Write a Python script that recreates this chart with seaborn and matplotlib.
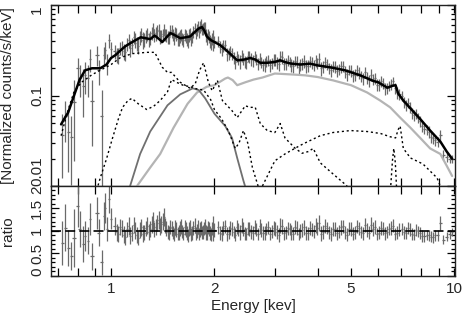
import numpy as np
import matplotlib
matplotlib.use("Agg")
import matplotlib.pyplot as plt
from matplotlib.ticker import LogLocator, MultipleLocator, NullFormatter, NullLocator
import seaborn as sns

# --- measured spectrum: energy (keV), normalized counts/s/keV, data/model ratio ---
data_e = [0.72, 0.735, 0.75, 0.765, 0.78, 0.80, 0.81, 0.83, 0.84, 0.857,
          0.87, 0.88, 0.91, 0.92, 0.94, 0.955, 0.96, 0.97, 0.987, 1.0,
          1.025, 1.05, 1.075, 1.10, 1.125, 1.15, 1.175, 1.20, 1.225, 1.25,
          1.275, 1.30, 1.325, 1.35, 1.375, 1.40, 1.425, 1.45, 1.475, 1.50,
          1.525, 1.55, 1.575, 1.60, 1.625, 1.65, 1.675, 1.70, 1.725, 1.75,
          1.775, 1.80, 1.825, 1.85, 1.875, 1.90, 1.925, 1.95, 1.975, 2.00,
          2.05, 2.10, 2.15, 2.20, 2.25, 2.30, 2.35, 2.40, 2.45, 2.50,
          2.56, 2.62, 2.68, 2.74, 2.80, 2.87, 2.94, 3.01, 3.08, 3.15,
          3.23, 3.31, 3.39, 3.47, 3.56, 3.65, 3.74, 3.84, 3.94, 4.04,
          4.15, 4.26, 4.37, 4.49, 4.61, 4.73, 4.86, 4.99, 5.13, 5.27,
          5.41, 5.56, 5.71, 5.87, 6.03, 6.20, 6.37, 6.55, 6.73, 6.92,
          7.11, 7.31, 7.52, 7.73, 7.95, 8.18, 8.42, 8.67, 8.93, 9.10,
          9.28, 9.50, 9.70, 9.85]
data_flux = [0.037, 0.059, 0.040, 0.035, 0.084, 0.20, 0.156, 0.128, 0.17, 0.156,
             0.254, 0.088, 0.28, 0.19, 0.06, 0.28, 0.32, 0.23, 0.41, 0.33,
             0.308, 0.279, 0.336, 0.301, 0.407, 0.366, 0.413, 0.357, 0.475, 0.418,
             0.482, 0.441, 0.543, 0.486, 0.531, 0.46, 0.533, 0.462, 0.447, 0.519,
             0.437, 0.473, 0.427, 0.473, 0.409, 0.453, 0.40, 0.486, 0.451, 0.56,
             0.53, 0.512, 0.605, 0.549, 0.561, 0.428, 0.447, 0.377, 0.464, 0.398,
             0.40, 0.329, 0.358, 0.291, 0.294, 0.235, 0.252, 0.274, 0.238, 0.27,
             0.255, 0.273, 0.223, 0.235, 0.221, 0.248, 0.23, 0.248, 0.221, 0.266,
             0.226, 0.236, 0.211, 0.235, 0.22, 0.24, 0.213, 0.231, 0.244, 0.253,
             0.207, 0.223, 0.191, 0.21, 0.194, 0.211, 0.172, 0.188, 0.17, 0.179,
             0.155, 0.159, 0.17, 0.156, 0.132, 0.137, 0.12, 0.135, 0.122, 0.103,
             0.085, 0.083, 0.064, 0.063, 0.052, 0.043, 0.04, 0.034, 0.031, 0.037,
             0.022, 0.021, 0.020, 0.020]
data_ratio = [0.73, 1.07, 0.62, 0.44, 0.84, 1.56, 1.04, 0.71, 0.89, 0.78,
              1.27, 0.44, 1.40, 0.96, 0.30, 1.33, 1.51, 1.04, 1.71, 1.27,
              1.12, 0.93, 1.05, 0.86, 1.10, 0.95, 1.02, 0.84, 1.08, 0.96,
              1.12, 1.05, 1.22, 1.08, 1.25, 1.15, 1.30, 1.05, 0.95, 1.06,
              0.92, 1.04, 0.97, 1.10, 0.94, 1.03, 0.90, 1.08, 0.96, 1.12,
              1.00, 0.93, 1.07, 0.98, 1.10, 0.95, 1.04, 0.92, 1.16, 1.02,
              1.08, 0.94, 1.10, 0.97, 1.05, 0.92, 1.03, 1.12, 0.95, 1.06,
              0.98, 1.09, 0.93, 1.02, 0.96, 1.08, 0.99, 1.05, 0.91, 1.10,
              0.97, 1.04, 0.94, 1.06, 1.00, 1.08, 0.95, 1.03, 1.12, 1.18,
              0.98, 1.07, 0.93, 1.05, 0.99, 1.10, 0.92, 1.04, 0.97, 1.06,
              0.95, 1.02, 1.14, 1.09, 0.96, 1.05, 0.98, 1.07, 0.94, 1.03,
              0.97, 1.06, 0.93, 1.02, 0.95, 0.88, 0.90, 0.86, 0.90, 1.18,
              0.80, 0.87, 0.93, 0.98]
ratio_err = [0.49, 0.52, 0.40, 0.31, 0.65, 0.48, 0.40, 0.39, 0.34, 0.30,
             0.35, 0.30, 0.35, 0.30, 0.28, 0.31, 0.33, 0.27, 0.30, 0.23,
             0.20, 0.18, 0.19, 0.17, 0.20, 0.18, 0.19, 0.16, 0.19, 0.17,
             0.19, 0.18, 0.20, 0.18, 0.20, 0.19, 0.20, 0.17, 0.16, 0.17,
             0.15, 0.17, 0.16, 0.17, 0.15, 0.16, 0.15, 0.17, 0.15, 0.16,
             0.15, 0.14, 0.16, 0.15, 0.16, 0.15, 0.16, 0.15, 0.17, 0.16,
             0.15, 0.16, 0.15, 0.14, 0.16, 0.15, 0.15, 0.17, 0.14, 0.15,
             0.16, 0.15, 0.14, 0.15, 0.16, 0.15, 0.14, 0.16, 0.15, 0.17,
             0.15, 0.14, 0.15, 0.16, 0.15, 0.17, 0.14, 0.15, 0.16, 0.18,
             0.15, 0.14, 0.15, 0.16, 0.14, 0.15, 0.14, 0.15, 0.14, 0.15,
             0.14, 0.15, 0.16, 0.15, 0.14, 0.15, 0.14, 0.15, 0.13, 0.14,
             0.14, 0.13, 0.14, 0.13, 0.13, 0.12, 0.13, 0.12, 0.12, 0.15,
             0.10, 0.10, 0.10, 0.09]

# second (interleaved) half of the channels, 1-9 keV
data_e2 = [1.0375, 1.0625, 1.0875, 1.1125, 1.1375, 1.1625, 1.1875, 1.2125, 1.2375, 1.2625,
           1.2875, 1.3125, 1.3375, 1.3625, 1.3875, 1.4125, 1.4375, 1.4625, 1.4875, 1.5125,
           1.5375, 1.5625, 1.5875, 1.6125, 1.6375, 1.6625, 1.6875, 1.7125, 1.7375, 1.7625,
           1.7875, 1.8125, 1.8375, 1.8625, 1.8875, 1.9125, 1.9375, 1.9625, 1.9875,
           2.075, 2.125, 2.175, 2.225, 2.275, 2.325, 2.375, 2.425, 2.475, 2.53,
           2.59, 2.65, 2.71, 2.77, 2.835, 2.905, 2.975, 3.045, 3.115, 3.19,
           3.27, 3.35, 3.43, 3.515, 3.605, 3.695, 3.79, 3.89, 3.99, 4.095,
           4.205, 4.315, 4.43, 4.55, 4.67, 4.795, 4.925, 5.06, 5.2, 5.34,
           5.485, 5.635, 5.79, 5.95, 6.115, 6.285, 6.46, 6.64, 6.825, 7.015,
           7.21, 7.415, 7.625, 7.84, 8.065, 8.3, 8.545, 8.8]
data_flux2 = [0.281, 0.338, 0.308, 0.374, 0.338, 0.446, 0.378, 0.444, 0.414, 0.456,
              0.417, 0.495, 0.469, 0.519, 0.452, 0.478, 0.476, 0.446, 0.529, 0.47,
              0.502, 0.423, 0.452, 0.428, 0.473, 0.42, 0.465, 0.423, 0.514, 0.489,
              0.589, 0.577, 0.542, 0.567, 0.466, 0.475, 0.403, 0.425, 0.371,
              0.346, 0.357, 0.29, 0.31, 0.262, 0.27, 0.238, 0.257, 0.234, 0.271,
              0.245, 0.252, 0.256, 0.219, 0.239, 0.217, 0.25, 0.234, 0.274, 0.225,
              0.244, 0.218, 0.243, 0.206, 0.225, 0.214, 0.241, 0.219, 0.229, 0.2,
              0.232, 0.2, 0.21, 0.188, 0.21, 0.184, 0.193, 0.167, 0.189, 0.163,
              0.181, 0.147, 0.152, 0.131, 0.143, 0.12, 0.129, 0.144, 0.108, 0.099,
              0.079, 0.075, 0.061, 0.057, 0.046, 0.042, 0.035, 0.032]
data_ratio2 = [0.97, 1.09, 0.92, 1.04, 0.89, 1.13, 0.91, 1.02, 0.94, 1.06,
               0.98, 1.15, 1.03, 1.18, 1.09, 1.21, 1.12, 0.98, 1.09, 0.97,
               1.08, 0.94, 1.05, 0.99, 1.08, 0.95, 1.04, 0.92, 1.06, 0.95,
               1.09, 1.03, 0.96, 1.05, 0.97, 1.08, 0.96, 1.05, 0.94,
               0.96, 1.06, 0.93, 1.07, 0.98, 1.09, 0.97, 1.04, 0.93, 1.05,
               0.96, 1.03, 1.10, 0.95, 1.04, 0.94, 1.07, 0.98, 1.12, 0.95,
               1.06, 0.97, 1.09, 0.93, 1.02, 0.96, 1.07, 0.99, 1.06, 0.94,
               1.11, 0.97, 1.04, 0.95, 1.08, 0.97, 1.05, 0.94, 1.10, 0.98,
               1.13, 0.96, 1.04, 0.93, 1.07, 0.95, 1.04, 1.12, 0.96, 1.05,
               0.95, 1.03, 0.92, 0.99, 0.89, 0.91, 0.87, 0.90]
ratio_err2 = [0.19, 0.18, 0.18, 0.17, 0.19, 0.18, 0.17, 0.18, 0.19, 0.17,
              0.18, 0.19, 0.17, 0.18, 0.19, 0.18, 0.17, 0.16, 0.16, 0.15,
              0.16, 0.15, 0.17, 0.15, 0.16, 0.15, 0.16, 0.15, 0.16, 0.14,
              0.15, 0.16, 0.14, 0.15, 0.16, 0.15, 0.16, 0.15, 0.16,
              0.15, 0.16, 0.15, 0.16, 0.14, 0.15, 0.16, 0.15, 0.14, 0.16,
              0.15, 0.14, 0.16, 0.15, 0.14, 0.15, 0.16, 0.15, 0.16, 0.14,
              0.15, 0.16, 0.15, 0.14, 0.15, 0.16, 0.15, 0.14, 0.15, 0.16,
              0.15, 0.14, 0.15, 0.14, 0.16, 0.15, 0.14, 0.15, 0.15, 0.14,
              0.15, 0.14, 0.15, 0.14, 0.15, 0.14, 0.13, 0.14, 0.14, 0.13,
              0.13, 0.14, 0.13, 0.12, 0.13, 0.12, 0.12, 0.12]

# --- fitted model: total and components ---
total_e = [0.715, 0.73, 0.75, 0.78, 0.81, 0.84, 0.88, 0.93, 0.97, 1.0, 1.03, 1.06,
           1.10, 1.14, 1.18, 1.22, 1.26, 1.30, 1.34, 1.38, 1.41, 1.45, 1.49, 1.54,
           1.59, 1.65, 1.70, 1.75, 1.80, 1.84, 1.87, 1.90, 1.95, 2.0, 2.08, 2.2,
           2.33, 2.45, 2.54, 2.63, 2.72, 2.85, 3.0, 3.11, 3.2, 3.33, 3.55, 3.8,
           4.0, 4.35, 4.8, 5.32, 5.8, 6.0, 6.2, 6.38, 6.6, 6.74, 6.86, 7.1,
           7.45, 7.95, 8.5, 9.1, 9.5, 9.85]
total_flux = [0.048, 0.055, 0.065, 0.1, 0.15, 0.19, 0.2, 0.2, 0.22, 0.26, 0.28, 0.31,
              0.35, 0.38, 0.41, 0.44, 0.43, 0.42, 0.46, 0.42, 0.39, 0.44, 0.49, 0.46,
              0.43, 0.44, 0.45, 0.50, 0.55, 0.57, 0.52, 0.45, 0.41, 0.39, 0.36, 0.30,
              0.245, 0.25, 0.26, 0.25, 0.23, 0.23, 0.235, 0.245, 0.235, 0.226, 0.22, 0.225,
              0.215, 0.205, 0.19, 0.167, 0.145, 0.14, 0.13, 0.122, 0.128, 0.13, 0.105, 0.088,
              0.072, 0.055, 0.041, 0.031, 0.024, 0.02]

soft_e = [0.715, 0.75, 0.78, 0.82, 0.88, 0.93, 1.0, 1.06, 1.15, 1.27, 1.34, 1.41,
          1.46, 1.50, 1.59, 1.70, 1.76, 1.81, 1.86, 1.92, 1.97, 2.04, 2.11, 2.25,
          2.33, 2.46, 2.54, 2.63, 2.72, 2.85, 3.0, 3.11, 3.21, 3.44, 3.6, 3.75,
          3.88, 4.07, 4.43, 4.87]
soft_flux = [0.036, 0.07, 0.11, 0.14, 0.17, 0.19, 0.22, 0.26, 0.29, 0.30, 0.30, 0.205,
             0.18, 0.18, 0.14, 0.12, 0.136, 0.19, 0.23, 0.14, 0.113, 0.147, 0.088, 0.068,
             0.057, 0.077, 0.074, 0.074, 0.049, 0.041, 0.039, 0.049, 0.034, 0.026, 0.023, 0.024,
             0.026, 0.018, 0.0136, 0.01]

warm_e = [0.90, 0.93, 0.97, 1.01, 1.05, 1.08, 1.12, 1.15, 1.2, 1.27, 1.33, 1.39,
          1.46, 1.5, 1.55, 1.62, 1.7, 1.78, 1.86, 1.95, 2.0, 2.1, 2.2, 2.3,
          2.36, 2.43, 2.5, 2.58, 2.68]
warm_flux = [0.008, 0.0123, 0.02, 0.034, 0.055, 0.074, 0.088, 0.093, 0.081, 0.07, 0.076, 0.088,
             0.11, 0.15, 0.14, 0.13, 0.125, 0.118, 0.115, 0.09, 0.07, 0.055, 0.04, 0.026,
             0.03, 0.041, 0.03, 0.016, 0.01]

hot_e = [2.76, 3.0, 3.21, 3.55, 3.68, 4.07, 4.43, 4.98, 5.57, 6.1, 6.5, 6.74,
         6.86, 6.95, 7.1, 7.45, 8.1, 8.9, 9.1]
hot_flux = [0.01, 0.019, 0.0226, 0.028, 0.03, 0.036, 0.039, 0.041, 0.04, 0.038, 0.035, 0.034,
            0.042, 0.046, 0.026, 0.0204, 0.0175, 0.0123, 0.01]

fe_e = [6.5, 6.6, 6.66, 6.73, 6.8]
fe_flux = [0.008, 0.019, 0.026, 0.018, 0.008]

mid_e = [1.10, 1.136, 1.215, 1.3, 1.46, 1.59, 1.73, 1.80, 1.88, 2.0, 2.15, 2.25,
         2.33, 2.43, 2.5]
mid_flux = [0.007, 0.01, 0.0226, 0.04, 0.078, 0.103, 0.12, 0.115, 0.093, 0.063, 0.046, 0.034,
            0.0204, 0.0114, 0.008]

pl_e = [1.15, 1.19, 1.3, 1.39, 1.52, 1.67, 1.78, 1.9, 2.0, 2.15, 2.19, 2.26,
        2.33, 2.46, 2.6, 2.76, 3.0, 3.44, 3.68, 4.0, 4.43, 5.0, 5.57, 6.08,
        6.5, 6.95, 7.45, 7.95, 8.5, 9.1, 9.5, 9.85]
pl_flux = [0.007, 0.01, 0.016, 0.0226, 0.044, 0.081, 0.108, 0.125, 0.13, 0.154, 0.158, 0.148,
           0.13, 0.14, 0.15, 0.158, 0.175, 0.17, 0.167, 0.16, 0.147, 0.13, 0.108, 0.088,
           0.074, 0.057, 0.044, 0.034, 0.026, 0.0226, 0.0167, 0.0129]

xtick_vals = [0.7, 0.8, 0.9, 1, 2, 3, 4, 5, 6, 7, 8, 9, 10]
xtick_text = ['', '', '', '1', '2', '', '', '5', '', '', '', '', '10']
flux_ticks = [0.01, 0.1, 1]
flux_tick_text = ['0.01', '0.1', '1']
ratio_ticks = [0, 0.5, 1, 1.5, 2]
ratio_tick_text = ['0', '0.5', '1', '1.5', '2']

# merge channels, propagate errors, bin half-widths
e = np.array(data_e + data_e2)
order = np.argsort(e)
e = e[order]
flux = np.array(data_flux + data_flux2)[order]
ratio = np.array(data_ratio + data_ratio2)[order]
r_err = np.array(ratio_err + ratio_err2)[order]
flux_err = flux * r_err / ratio
e_half = np.gradient(e) / 2

sns.set_style("ticks")
plt.rcParams['font.family'] = ['Liberation Sans', 'DejaVu Sans']
plt.rcParams['font.size'] = 11

fig = plt.figure(figsize=(4.63, 3.16), dpi=100)
ax1 = fig.add_axes([0.110, 0.4114, 0.873, 0.5727])
ax2 = fig.add_axes([0.110, 0.1266, 0.873, 0.2848])

data_col = '#6a6a6a'

# top panel: spectrum + model
ax1.errorbar(e, flux, yerr=flux_err, xerr=e_half, fmt='none',
             ecolor=data_col, elinewidth=0.9, capsize=0, zorder=2)
sns.lineplot(x=pl_e, y=pl_flux, ax=ax1, color='#b4b4b4', lw=1.6, sort=False, estimator=None, zorder=3)
sns.lineplot(x=mid_e, y=mid_flux, ax=ax1, color='#707070', lw=1.3, sort=False, estimator=None, zorder=3)
for xs, ys in [(soft_e, soft_flux), (warm_e, warm_flux), (hot_e, hot_flux), (fe_e, fe_flux)]:
    sns.lineplot(x=xs, y=ys, ax=ax1, color='black', lw=1.0, linestyle=(0, (1.5, 2)),
                 sort=False, estimator=None, zorder=3)
sns.lineplot(x=total_e, y=total_flux, ax=ax1, color='black', lw=1.8, sort=False, estimator=None, zorder=4)

# bottom panel: ratio
ax2.errorbar(e, ratio, yerr=r_err, xerr=e_half, fmt='none',
             ecolor=data_col, elinewidth=0.9, capsize=0, zorder=2)
ax2.axhline(1, color='black', lw=1.2, ls=(0, (6, 2.5)), zorder=3)

for ax in (ax1, ax2):
    ax.set_xscale('log')
    ax.set_xlim(0.668, 10.05)
    ax.set_xticks(xtick_vals, xtick_text)
    ax.xaxis.set_minor_locator(NullLocator())
    ax.tick_params(which='both', direction='in', top=True, right=True, color='black', width=0.9)
    ax.tick_params(which='major', length=6)
    ax.tick_params(which='minor', length=3)
    ax.tick_params(axis='x', pad=4)
    ax.tick_params(axis='y', pad=5)
    for sp in ax.spines.values():
        sp.set_color('#222222')
        sp.set_linewidth(1.0)

ax1.set_yscale('log')
ax1.set_ylim(0.01, 1)
ax1.set_yticks(flux_ticks, flux_tick_text, rotation=90, va='center')
ax1.yaxis.set_minor_locator(LogLocator(base=10, subs=np.arange(2, 10)))
ax1.yaxis.set_minor_formatter(NullFormatter())
ax1.tick_params(labelbottom=False)
ax1.set_ylabel('[Normalized counts/s/keV]')
ax1.yaxis.set_label_coords(-0.089, 0.5)

ax2.set_ylim(0, 2)
ax2.set_yticks(ratio_ticks, ratio_tick_text, rotation=90, va='center')
ax2.yaxis.set_minor_locator(MultipleLocator(0.1))
ax2.set_ylabel('ratio')
ax2.yaxis.set_label_coords(-0.089, 0.5)
ax2.set_xlabel('Energy [kev]')
ax2.xaxis.set_label_coords(0.5, -0.255)

# edge labels kept inside their own panel (as in the original plot)
ax1.yaxis.get_major_ticks()[0].label1.set_va('bottom')
ax1.yaxis.get_major_ticks()[-1].label1.set_va('top')
ax2.yaxis.get_major_ticks()[0].label1.set_va('bottom')
ax2.yaxis.get_major_ticks()[-1].label1.set_va('top')

fig.savefig('out.png', dpi=100)
